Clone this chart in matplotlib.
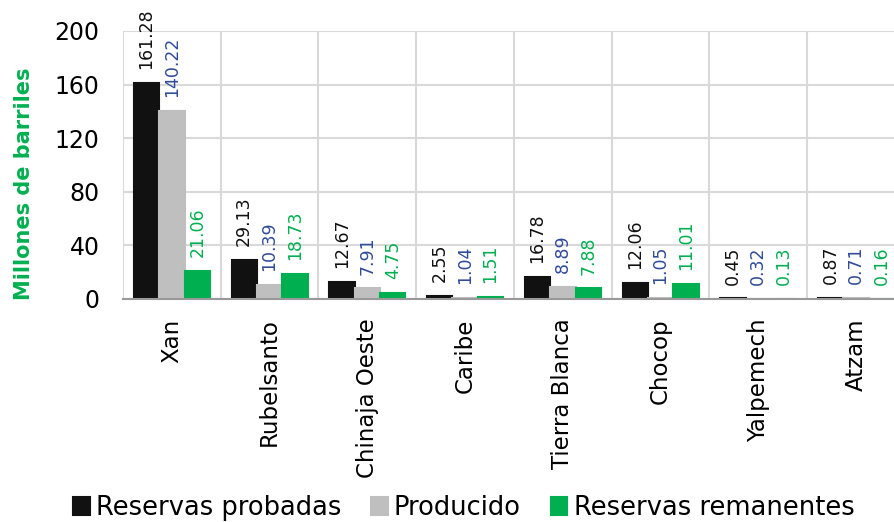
import numpy as np
import matplotlib.pyplot as plt

campos = ['Xan', 'Rubelsanto', 'Chinaja Oeste', 'Caribe', 'Tierra Blanca',
          'Chocop', 'Yalpemech', 'Atzam']
probadas = [161.28, 29.13, 12.67, 2.55, 16.78, 12.06, 0.45, 0.87]
producido = [140.22, 10.39, 7.91, 1.04, 8.89, 1.05, 0.32, 0.71]
remanentes = [21.06, 18.73, 4.75, 1.51, 7.88, 11.01, 0.13, 0.16]

series = [
    ('Reservas probadas', probadas, '#111111', '#111111'),
    ('Producido', producido, '#BFBFBF', '#2F4B9A'),
    ('Reservas remanentes', remanentes, '#00B050', '#00B050'),
]

plt.rcParams['font.family'] = ['DejaVu Sans']

fig = plt.figure(figsize=(8.95, 5.22), dpi=100)
ax = fig.add_axes([123 / 895, 1 - 299 / 522, 782 / 895, 268 / 522])

x = np.arange(len(campos))
w = 0.26
for i, (name, vals, col, lcol) in enumerate(series):
    pos = x + (i - 1) * w
    ax.bar(pos, vals, width=w, color=col, edgecolor=col, lw=1.5,
           label=name, zorder=3)
    for px, v in zip(pos, vals):
        ax.annotate(f'{v:.2f}', (px, v), xytext=(0, 10), textcoords='offset points',
                    rotation=90, ha='center', va='bottom', fontsize=12.5,
                    color=lcol, zorder=4)

ax.set_xlim(-0.5, len(campos) - 0.5)
ax.set_ylim(0, 200)
ax.set_yticks([0, 40, 80, 120, 160, 200])
ax.set_xticks(x)
ax.set_xticklabels(campos, rotation=90, fontsize=16.5)
ax.set_xticks(np.arange(len(campos) + 1) - 0.5, minor=True)
ax.tick_params(axis='x', which='both', length=0, pad=14)
ax.tick_params(axis='y', length=0, labelsize=17, pad=17)

ax.grid(axis='y', color='#D9D9D9', lw=1.5, zorder=0)
ax.grid(axis='x', which='minor', color='#D9D9D9', lw=1.5, zorder=0)
for s in ['top', 'right', 'left']:
    ax.spines[s].set_visible(False)
ax.spines['bottom'].set_color('#999999')
ax.spines['bottom'].set_linewidth(1.5)
ax.spines['bottom'].set_zorder(4)

ax.set_ylabel('Millones de barriles', color='#00B050', fontsize=15,
              fontweight='bold')
ax.yaxis.set_label_coords(-0.114, 0.43)

fig.legend(loc='center', bbox_to_anchor=(0.518, 1 - 508 / 522), ncol=3,
           frameon=False, fontsize=18.5, handlelength=0.65, handleheight=0.65,
           handletextpad=0.25, columnspacing=1.15, borderpad=0)

fig.savefig('out.png', dpi=100)
